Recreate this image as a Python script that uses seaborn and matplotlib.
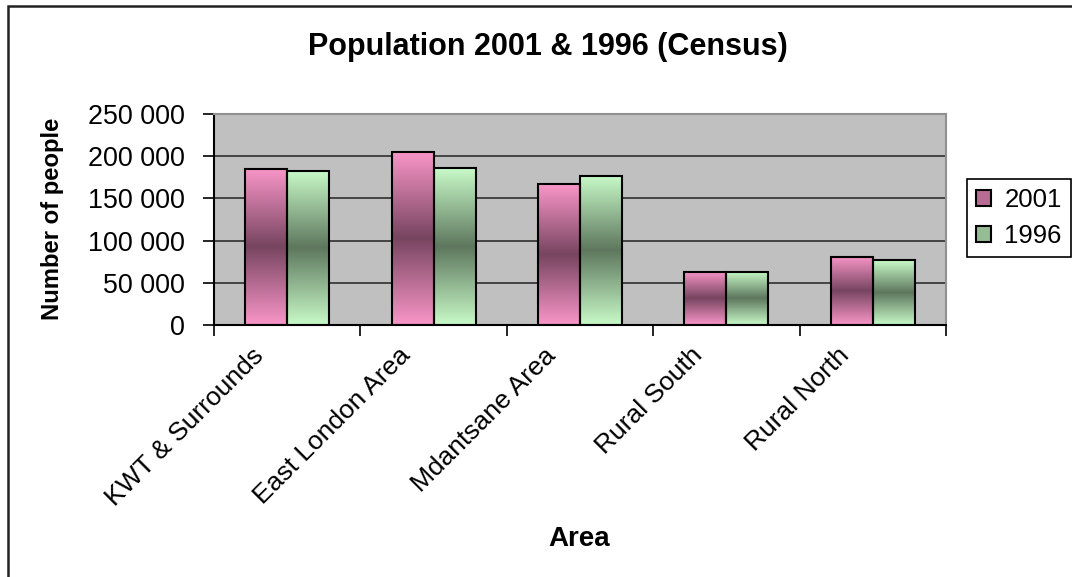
import numpy as np
import pandas as pd
import seaborn as sns
import matplotlib.pyplot as plt
from matplotlib.colors import LinearSegmentedColormap
from matplotlib.patches import Rectangle
from matplotlib.transforms import ScaledTranslation
from matplotlib.ticker import FuncFormatter, MultipleLocator, FixedLocator

# data
areas = ["KWT & Surrounds", "East London Area", "Mdantsane Area",
         "Rural South", "Rural North"]
pop_2001 = [185000, 205000, 167000, 63000, 81000]
pop_1996 = [183000, 186000, 177000, 63000, 77000]
years = ["2001", "1996"]

light = {"2001": "#F996C8", "1996": "#C8FAC8"}
dark = {"2001": "#774560", "1996": "#5E775E"}

df = pd.DataFrame({
    "Area": areas * 2,
    "Population": pop_2001 + pop_1996,
    "Year": [years[0]] * len(areas) + [years[1]] * len(areas),
})

sns.set_style("white")
plt.rcParams["font.family"] = ["Liberation Sans", "DejaVu Sans"]
for key in ["text.color", "axes.labelcolor", "xtick.color", "ytick.color"]:
    plt.rcParams[key] = "black"

fig = plt.figure(figsize=(10.72, 5.77), dpi=100)
ax = fig.add_axes([214 / 1072, 1 - 325 / 577, (946 - 214) / 1072, (325 - 114) / 577])
ax.set_facecolor("#C0C0C0")

sns.barplot(data=df, x="Area", y="Population", hue="Year", hue_order=years,
            palette=light, width=0.575, gap=0, edgecolor="black",
            linewidth=1.5, saturation=1, ax=ax, legend=True)

# vertical gradient fill inside each bar: light - dark - light
xlim, ylim = (-0.5, len(areas) - 0.5), (0, 250000)
for cont, yr in zip(ax.containers, years):
    cmap = LinearSegmentedColormap.from_list(
        yr, [light[yr], dark[yr], light[yr]])
    grad = np.linspace(0, 1, 256).reshape(-1, 1)
    for bar in cont:
        x0, y0 = bar.get_x(), bar.get_y()
        w, h = bar.get_width(), bar.get_height()
        im = ax.imshow(grad, cmap=cmap, aspect="auto", origin="upper",
                       extent=(x0, x0 + w, y0, y0 + h), zorder=bar.get_zorder() - 0.1)
        im.set_clip_path(bar)
        bar.set_facecolor("none")
ax.set_xlim(xlim)
ax.set_ylim(ylim)

ax.set_axisbelow(True)
ax.yaxis.set_major_locator(MultipleLocator(50000))
ax.yaxis.set_major_formatter(FuncFormatter(lambda v, p: f"{int(v):,}".replace(",", " ")))
ax.grid(axis="y", color="#3A3A3A", linewidth=1.3)
ax.grid(axis="x", visible=False)

ax.xaxis.set_minor_locator(FixedLocator(np.arange(-0.5, len(areas), 1)))
ax.tick_params(axis="x", which="major", length=0, pad=6, labelsize=19)
ax.tick_params(axis="x", which="minor", length=8, width=1.2, direction="out", color="black", bottom=True)
ax.tick_params(axis="y", length=8, width=1.2, direction="out", color="black", left=True, labelsize=19.4, pad=13)
shift = ScaledTranslation(-36 / 100, -10 / 100, fig.dpi_scale_trans)
for lbl in ax.get_xticklabels():
    lbl.set_rotation(45)
    lbl.set_ha("right")
    lbl.set_rotation_mode("anchor")
    lbl.set_transform(lbl.get_transform() + shift)

for side in ["left", "bottom"]:
    ax.spines[side].set_color("black")
    ax.spines[side].set_linewidth(1.5)
for side in ["top", "right"]:
    ax.spines[side].set_color("#909090")
    ax.spines[side].set_linewidth(1.5)

ax.set_xlabel("")
ax.set_ylabel("")
fig.text(53 / 1072, 1 - 219 / 577, "Number of people", rotation=90,
         ha="center", va="center", fontsize=17.2, fontweight="bold")
fig.text(579 / 1072, 1 - 539 / 577, "Area", ha="center", va="center",
         fontsize=20, fontweight="bold")
fig.text(548 / 1072, 1 - 47 / 577, "Population 2001 & 1996 (Census)",
         ha="center", va="center", fontsize=22, fontweight="bold")

handles, labels = ax.get_legend_handles_labels()
mid = {"2001": "#B86C94", "1996": "#96BC96"}
for hd, lb in zip(handles, labels):
    hd.set_facecolor(mid[lb])
    hd.set_edgecolor("black")
ax.legend(handles, labels, loc="center left", bbox_to_anchor=(967 / 1072, 1 - 218 / 577),
          bbox_transform=fig.transFigure, frameon=True, fancybox=False,
          edgecolor="black", fontsize=18.5, handlelength=0.6, handleheight=0.6,
          handletextpad=0.5, borderpad=0.35, labelspacing=0.45, framealpha=1,
          borderaxespad=0)
ax.get_legend().get_frame().set_linewidth(1.2)

# outer chart border (right/bottom fall outside the image)
fig.patches.append(Rectangle((8 / 1072, -0.1), 1.2, 1.1 - 6 / 577,
                             transform=fig.transFigure, fill=False,
                             edgecolor="#222222", linewidth=1.8))

fig.savefig("out.png", dpi=100)
